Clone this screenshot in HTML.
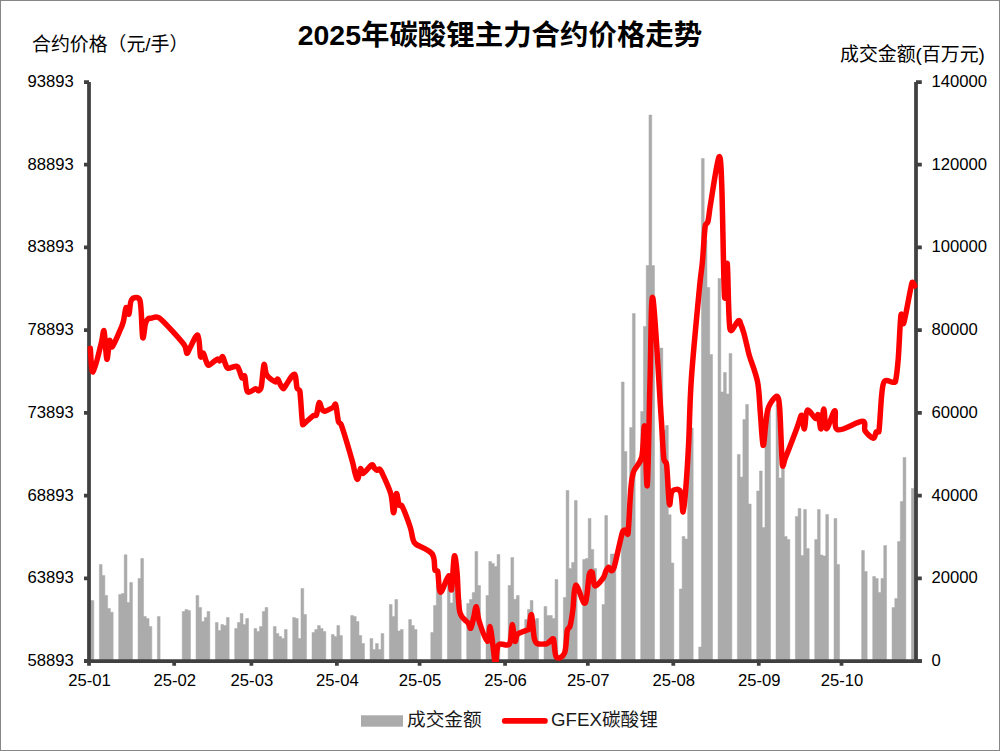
<!DOCTYPE html><html><head><meta charset="utf-8"><title>chart</title><style>html,body{margin:0;padding:0;background:#fff}body{width:1000px;height:751px;overflow:hidden;font-family:"Liberation Sans",sans-serif}</style></head><body><svg width="1000" height="751" viewBox="0 0 1000 751" style="display:block"><rect x="0" y="0" width="1000" height="751" fill="#fff"/><rect x="0.5" y="0.5" width="999" height="750" fill="none" stroke="#868686" stroke-width="1"/><path d="M88.3 661V600H91.06V600.5H93.82V661ZM99.35 661V564.5H102.11V575.5H104.87V595.5H107.63V608.5H110.4V612.2H113.16V661ZM118.68 661V594.5H121.44V593.5H124.21V554.8H126.97V602.5H129.73V582.5H132.49V661ZM138.02 661V578.5H140.78V558.5H143.54V616.5H146.3V618.5H149.06V626.5H151.83V661ZM157.35 661V616.5H160.11V661ZM182.21 661V611.5H184.97V609.5H187.73V610.5H190.49V661ZM196.02 661V595.5H198.78V607.5H201.54V621.5H204.3V617.5H207.07V611.5H209.83V661ZM215.35 661V622.5H218.11V630.5H220.88V624.5H223.64V625.5H226.4V617.5H229.16V661ZM234.69 661V628.5H237.45V622.5H240.21V613.5H242.97V624.5H245.73V618.5H248.5V661ZM254.02 661V628.5H256.78V631.5H259.54V626.5H262.31V611.5H265.07V607.5H267.83V661ZM273.35 661V626.5H276.12V633.5H278.88V636.5H281.64V638.5H284.4V629.5H287.16V661ZM292.69 661V617.5H295.45V618.5H298.21V638.5H300.97V588.5H303.74V614.5H306.5V661ZM312.02 661V632.5H314.78V629.5H317.55V625.5H320.31V628.5H323.07V631.5H325.83V661ZM331.36 661V634.5H334.12V636.5H336.88V625.5H339.64V635.5H342.4V661ZM350.69 661V615.5H353.45V616.5H356.21V621.5H358.98V635.5H361.74V643.5H364.5V661ZM370.02 661V638.5H372.79V649.5H375.55V643.5H378.31V649.5H381.07V633.5H383.83V661ZM389.36 661V604.5H392.12V616.5H394.88V599.5H397.64V631H400.41V629.5H403.17V661ZM408.69 661V619.5H411.45V625.5H414.22V629.5H416.98V661ZM430.79 661V632.5H433.55V605.5H436.31V585H439.07V585H441.84V661ZM447.36 661V580H450.12V603H452.88V580H455.65V585H458.41V600H461.17V661ZM466.69 661V603.5H469.46V599.5H472.22V592.5H474.98V551.5H477.74V585.5H480.5V661ZM486.03 661V595.5H488.79V561.5H491.55V563.5H494.31V566.5H497.08V554.5H499.84V661ZM508.12 661V585.5H510.89V557.5H513.65V599.3H516.41V595.5H519.17V661ZM524.7 661V619.5H527.46V609.5H530.22V600.5H532.98V620H535.74V618.5H538.51V661ZM544.03 661V606.5H546.79V615.5H549.55V615.5H552.32V618.5H555.08V579.5H557.84V661ZM563.36 661V597.5H566.13V490.5H568.89V568.5H571.65V562.5H574.41V500.5H577.17V661ZM582.7 661V559.5H585.46V558.5H588.22V518.5H590.98V549.5H593.75V568.5H596.51V661ZM602.03 661V604.5H604.79V515.5H607.56V565H610.32V554H613.08V554H615.84V661ZM621.37 661V382H624.13V451.5H626.89V528H629.65V427.5H632.41V313.5H635.18V661ZM640.7 661V411.5H643.46V326.5H646.22V265.5H648.99V115H651.75V265.5H654.51V661ZM660.03 661V348H662.8V430H665.56V425.5H668.32V514.8H671.08V563H673.84V661ZM679.37 661V589H682.13V536.5H684.89V539H687.65V455H690.42V428H693.18V661ZM698.7 661V647H701.46V158.5H704.23V240H706.99V287.5H709.75V354.5H712.51V661ZM718.04 661V278.5H720.8V392H723.56V372.5H726.32V394H729.08V353.5H731.85V661ZM737.37 661V454.5H740.13V477H742.89V419.5H745.66V404.5H748.42V504H751.18V661ZM756.7 661V491H759.47V471H762.23V527.5H764.99V425H767.75V405H770.51V661ZM776.04 661V404H778.8V478H781.56V468H784.32V536.5H787.09V539.5H789.85V661ZM795.37 661V516.5H798.13V508.5H800.9V555.5H803.66V509.5H806.42V548.5H809.18V661ZM814.71 661V539.5H817.47V509.5H820.23V555H822.99V556H825.75V514.5H828.52V661ZM834.04 661V518.5H836.8V564.5H839.56V661ZM861.66 661V550.5H864.42V571.5H867.18V661ZM872.71 661V576.5H875.47V578.5H878.23V592.5H880.99V578.5H883.76V545.5H886.52V661ZM892.04 661V607.5H894.8V598.5H897.57V541.5H900.33V501.5H903.09V457.5H905.85V661ZM911.38 661V488.5H914.14V480H916.9V661Z" fill="#ababab" stroke="#ababab" stroke-width="0.5" stroke-linejoin="round"/><path d="M89.0 82.0V661.0M916.0 82.0V661.0M84 661.0H921.8" fill="none" stroke="#404040" stroke-width="3.75"/><path d="M84 661H89.0M916.0 661H921.8M84 578.29H89.0M916.0 578.29H921.8M84 495.57H89.0M916.0 495.57H921.8M84 412.86H89.0M916.0 412.86H921.8M84 330.14H89.0M916.0 330.14H921.8M84 247.43H89.0M916.0 247.43H921.8M84 164.71H89.0M916.0 164.71H921.8M84 82H89.0M916.0 82H921.8M89 661.0V665.8M174.18 661.0V665.8M251.39 661.0V665.8M336.88 661.0V665.8M419.6 661.0V665.8M505.08 661.0V665.8M587.81 661.0V665.8M673.29 661.0V665.8M758.77 661.0V665.8M841.5 661.0V665.8" fill="none" stroke="#404040" stroke-width="3.75"/><clipPath id="pc"><rect x="80" y="70" width="850" height="592"/></clipPath><path clip-path="url(#pc)" d="M90.28 348.3C90.74 352.25 91.2 372.88 93.04 372C94.87 371.12 99.47 349.82 101.31 343C102.9 337.1 103.15 328.4 104.07 331.1C104.99 333.8 105.9 357.6 106.82 359.2C107.74 360.8 108.66 342.8 109.58 340.7C110.5 338.6 110.5 348.55 112.34 346.6C114.18 344.65 118.77 333.18 120.61 329C122.22 325.34 122.45 325.08 123.37 321.5C124.29 317.92 125.21 308.72 126.13 307.5C127.05 306.28 127.96 315.52 128.88 314.2C129.8 312.88 129.8 301.92 131.64 299.6C133.48 297.28 138.75 296.32 139.91 300.3C141.75 306.58 141.75 333.42 142.67 337.3C143.59 341.18 144.51 326.68 145.43 323.6C146.22 320.95 147.27 319.68 148.19 318.8C149.11 317.92 149.55 318.41 150.94 318.3C152.78 318.15 155.97 315.33 159.22 317.9C164.73 322.27 179.44 338.62 184.03 344.5C186.84 348.1 185.87 352.5 186.79 353.2C187.71 353.9 188.17 350.95 189.55 348.7C191.39 345.7 195.98 333.87 197.82 335.2C199.66 336.53 199.66 353.7 200.58 356.7C201.23 358.83 202.42 352.48 203.34 353.2C204.26 353.92 205.17 359 206.09 361C207.01 363 207.01 365.5 208.85 365.2C210.69 364.9 215.29 359.93 217.12 359.2C218.6 358.61 218.96 361.22 219.88 360.8C220.8 360.38 221.72 356.17 222.64 356.7C223.56 357.23 224.48 362.08 225.4 364C226.32 365.92 226.32 367.83 228.15 368.2C229.99 368.57 234.59 365.9 236.43 366.2C238.26 366.5 238.26 368.07 239.18 370C240.1 371.93 241.02 376.8 241.94 377.8C242.86 378.8 244.09 374.47 244.7 376C245.62 378.32 245.62 389.58 247.46 391.7C249.29 393.82 253.89 388.85 255.73 388.7C257.46 388.56 257.57 391.08 258.49 390.8C259.41 390.52 260.76 389.3 261.24 387C262.16 382.65 263.08 366.7 264 364.7C264.92 362.7 264.92 372.15 266.76 375C268.6 377.85 273.19 381.1 275.03 381.8C276.8 382.47 276.87 378.67 277.79 379.2C278.71 379.73 279.63 383.42 280.55 385C281.47 386.58 282.38 388.7 283.3 388.7C284.22 388.7 284.66 386.84 286.06 385C287.9 382.58 292.5 373.67 294.33 374.2C296.17 374.73 296.17 385.4 297.09 388.2C297.7 390.07 299.55 389.06 299.85 391C300.77 397 301.69 418.95 302.61 424.2C302.89 425.8 304.09 423.5 305.36 422.5C307.2 421.05 311.8 416.75 313.64 415.5C314.79 414.71 315.84 416.29 316.39 415C317.31 412.87 318.23 403.7 319.15 402.7C320.07 401.7 320.99 407.58 321.91 409C322.83 410.42 322.92 411.44 324.67 411.2C326.5 410.95 331.1 408.58 332.94 407.5C334.63 406.5 334.98 402.87 335.7 404.7C336.62 407.03 337.53 418.17 338.45 421.5C339.02 423.54 340.52 422.71 341.21 424.7C343.51 431.28 349.94 452.95 352.24 461C353.93 466.92 354.08 469.97 355 473C355.92 476.03 356.84 479.92 357.76 479.2C358.68 478.48 359.59 469.68 360.51 468.7C361.43 467.72 361.43 473.92 363.27 473.3C365.11 472.68 369.71 465.88 371.54 465C373.38 464.12 373.38 467.12 374.3 468C375.22 468.88 376.14 470.1 377.06 470.3C377.98 470.5 378.9 468.58 379.82 469.2C380.74 469.82 381.45 471.47 382.57 474C384.41 478.13 389.01 487.53 390.85 494C392.68 500.47 392.68 512.85 393.6 512.8C394.52 512.75 395.44 495 396.36 493.7C397.28 492.4 398.2 503 399.12 505C399.71 506.29 401.24 504.43 401.88 505.7C403.71 509.37 408.31 521.45 410.15 527C411.99 532.55 411.99 536.17 412.91 539C413.79 541.72 413.41 542.25 415.66 544C418.88 546.5 428.99 549.67 432.21 554C435.43 558.33 434.05 567.08 434.97 570C435.44 571.5 437.35 569.98 437.72 571.5C438.64 575.2 438.64 591.5 440.48 592.2C442.32 592.9 446.92 576.12 448.75 575.7C450.59 575.28 450.59 592.95 451.51 589.7C452.43 586.45 453.35 559.15 454.27 556.2C455.19 553.25 456.24 564.02 457.03 572C457.95 581.3 457.95 603.5 459.78 612C461.24 618.73 466.22 620.3 468.06 623C469.71 625.43 469.89 629.03 470.81 628.2C471.73 627.37 472.65 621.58 473.57 618C474.49 614.42 475.41 606.2 476.33 606.7C477.25 607.2 477.25 615.25 479.09 621C480.92 626.75 485.52 640.25 487.36 641.2C489.2 642.15 489.2 626.07 490.12 626.7C491.04 627.33 491.95 638.78 492.87 645C493.79 651.22 494.71 664 495.63 664C496.55 664 496.09 648.33 498.39 645C500.69 641.67 507.12 647.38 509.42 644C511.72 640.62 511.26 625.17 512.18 624.7C513.1 624.23 514.01 639.65 514.93 641.2C515.85 642.75 515.85 635.78 517.69 634C519.53 632.22 524.13 631.33 525.96 630.5C527.39 629.85 528.2 630.48 528.72 629C529.64 626.37 530.56 613.2 531.48 614.7C532.4 616.2 533.32 633.2 534.24 638C534.81 641.02 535.16 642.5 536.99 643.5C538.83 644.5 543.43 644.08 545.27 644C546.73 643.93 547.1 643.58 548.02 643C548.94 642.42 549.86 641.13 550.78 640.5C551.7 639.87 553.06 637.75 553.54 639.2C554.46 641.95 554.46 654.7 556.3 657C558.13 659.3 562.83 657.25 564.57 653C566.41 648.5 566.41 634.5 567.33 630C567.81 627.62 569.44 628.34 570.08 626C571 622.67 571.92 616.8 572.84 610C573.76 603.2 573.76 586.4 575.6 585.2C577.44 584 582.03 600.83 583.87 602.8C585.71 604.77 586.02 600.15 586.63 597C587.55 592.2 588.47 578.13 589.39 574C589.74 572.39 591.45 570.71 592.14 572.2C593.06 574.18 593.06 584.93 594.9 585.9C596.74 586.87 601.34 580.48 603.17 578C605.01 575.52 605.01 572.8 605.93 571C606.85 569.2 607.77 567.23 608.69 567.2C609.61 567.17 610.53 570.83 611.45 570.8C612.37 570.77 613.56 569.26 614.2 567C616.04 560.53 620.64 538.13 622.48 532C622.95 530.42 624.31 529.9 625.23 530.2C626.15 530.5 627.68 536.05 627.99 533.8C628.91 527.1 629.83 500.3 630.75 490C631.56 480.93 631.67 477.5 633.51 472C635.34 466.5 639.94 464.58 641.78 457C643.62 449.42 643.62 421.8 644.54 426.5C645.46 431.2 646.37 492.95 647.29 485.2C648.21 477.45 649.13 411.23 650.05 380C650.97 348.77 650.97 291.8 652.81 297.8C654.65 303.8 659.24 389.13 661.08 416C662.55 437.49 662.92 450.92 663.84 459C664.19 462.06 666.22 461.45 666.6 464.5C667.52 472 668.43 499.53 669.35 504C670.27 508.47 670.27 493.37 672.11 491.3C673.95 489.23 678.55 488.15 680.38 491.6C682.22 495.05 682.22 512.77 683.14 512C684.06 511.23 684.98 498.5 685.9 487C686.82 475.5 687.74 461.17 688.66 443C689.58 424.83 689.58 404.25 691.41 378C693.25 351.75 697.85 304.92 699.69 285.5C700.82 273.47 701.52 271.42 702.44 261.5C703.36 251.58 704.28 232.67 705.2 226C705.56 223.39 707.34 224.07 707.96 221.5C708.88 217.67 709.14 212.22 710.72 203C712.55 192.25 717.15 160 718.99 157C720.83 154 721.19 170.94 721.75 185C722.67 208.17 723.58 282.88 724.5 296C725.42 309.12 726.34 258.17 727.26 263.7C728.18 269.23 728.18 319.7 730.02 329.2C731.15 335.02 736.45 321.4 738.29 320.7C740.13 320 740.13 322.95 741.05 325C741.97 327.05 742.89 329.83 743.81 333C744.73 336.17 745.64 340.25 746.56 344C747.48 347.75 747.67 349.82 749.32 355.5C751.16 361.83 755.76 372.42 757.59 382C759.43 391.58 759.43 402.45 760.35 413C761.27 423.55 762.19 443.63 763.11 445.3C764.03 446.97 764.95 429.38 765.87 423C766.79 416.62 766.79 411.47 768.62 407C770.46 402.53 775.06 396.03 776.9 396.2C778.73 396.37 779.17 401.96 779.65 408C780.57 419.52 781.49 456.88 782.41 465.3C782.81 468.95 784.25 460.8 785.17 458.5C786.09 456.2 786.57 455.01 787.93 451.5C789.76 446.75 794.36 434.92 796.2 430C797.68 426.04 798.04 424.42 798.96 422C799.88 419.58 800.79 414.37 801.71 415.5C802.63 416.63 803.55 429.65 804.47 428.8C805.39 427.95 805.39 412.13 807.23 410.4C809.07 408.67 813.66 417.65 815.5 418.4C817.34 419.15 817.34 413.17 818.26 414.9C819.18 416.63 820.1 429.8 821.02 428.8C821.94 427.8 822.85 408.9 823.77 408.9C824.69 408.9 824.69 428.5 826.53 428.8C828.37 429.1 832.97 410.55 834.8 410.7C836.64 410.85 832.97 427.95 837.56 429.7C842.16 431.45 857.78 420.98 862.38 421.2C866.97 421.42 863.3 428.17 865.14 431C866.97 433.83 871.57 438.03 873.41 438.2C875.25 438.37 875.25 433.12 876.17 432C877.06 430.92 878.72 432.89 878.92 431.5C879.84 425.33 880.76 403.38 881.68 395C882.45 388.01 882.6 383.32 884.44 381.2C886.28 379.08 890.87 382.28 892.71 382.3C894.18 382.31 895.13 382.73 895.47 381.3C896.39 377.42 897.31 370.08 898.23 359C899.15 347.92 900.06 320.8 900.98 314.8C901.64 310.52 902.34 327.09 903.74 323C905.58 317.65 910.18 288.87 912.01 282.7C912.63 280.64 914.31 285.45 914.77 286" fill="none" stroke="#ff0000" stroke-width="5.5" stroke-linejoin="round" stroke-linecap="round"/><g font-family="&quot;Liberation Sans&quot;, &quot;Noto Sans CJK SC&quot;, sans-serif" font-size="16.67" fill="#000" stroke="none"><text x="73.9" y="666" text-anchor="end">58893</text><text x="931.4" y="666">0</text><text x="73.9" y="583.29" text-anchor="end">63893</text><text x="931.4" y="583.29">20000</text><text x="73.9" y="500.57" text-anchor="end">68893</text><text x="931.4" y="500.57">40000</text><text x="73.9" y="417.86" text-anchor="end">73893</text><text x="931.4" y="417.86">60000</text><text x="73.9" y="335.14" text-anchor="end">78893</text><text x="931.4" y="335.14">80000</text><text x="73.9" y="252.43" text-anchor="end">83893</text><text x="931.4" y="252.43">100000</text><text x="73.9" y="169.71" text-anchor="end">88893</text><text x="931.4" y="169.71">120000</text><text x="73.9" y="87" text-anchor="end">93893</text><text x="931.4" y="87">140000</text><text x="89.5" y="686.0" text-anchor="middle">25-01</text><text x="174.68" y="686.0" text-anchor="middle">25-02</text><text x="251.89" y="686.0" text-anchor="middle">25-03</text><text x="337.38" y="686.0" text-anchor="middle">25-04</text><text x="420.1" y="686.0" text-anchor="middle">25-05</text><text x="505.58" y="686.0" text-anchor="middle">25-06</text><text x="588.31" y="686.0" text-anchor="middle">25-07</text><text x="673.79" y="686.0" text-anchor="middle">25-08</text><text x="759.27" y="686.0" text-anchor="middle">25-09</text><text x="842" y="686.0" text-anchor="middle">25-10</text><text x="500" y="45" text-anchor="middle" font-size="28.44" font-weight="bold">2025年碳酸锂主力合约价格走势</text><text x="32" y="51" font-size="18.9">合约价格（元/手）</text><text x="840" y="61" font-size="18.9">成交金额(百万元)</text><text x="407" y="726" font-size="18.7" fill="#1a1a1a">成交金额</text><text x="551" y="726" font-size="18.7" fill="#1a1a1a">GFEX碳酸锂</text></g><rect x="361" y="715.3" width="42" height="11.4" fill="#ababab"/><path d="M504.7 720.9H545" stroke="#ff0000" stroke-width="5.6" stroke-linecap="round" fill="none"/></svg></body></html>
